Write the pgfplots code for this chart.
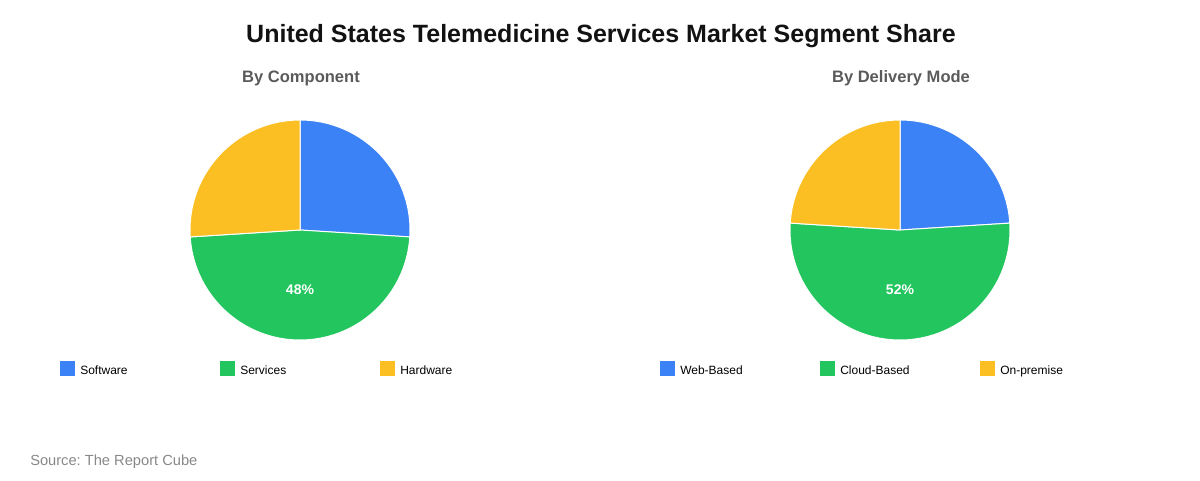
\documentclass[border=0pt]{standalone}
\usepackage{pgfplots}
\pgfplotsset{compat=1.18}
\usepackage{pgfplotstable}
\usepackage{fontspec}
\setmainfont{Liberation Sans}
\frenchspacing

\definecolor{cBlue}{HTML}{3B82F6}
\definecolor{cGreen}{HTML}{22C55E}
\definecolor{cYellow}{HTML}{FBBF24}
\definecolor{cSub}{HTML}{5A5A5A}
\definecolor{cSrc}{HTML}{888888}

% px -> pt : 1px = 0.75pt
\pgfplotstableread{
label value color
Software 26 cBlue
Services 48 cGreen
Hardware 26 cYellow
}\componentdata

\pgfplotstableread{
label value color
Web-Based 24 cBlue
Cloud-Based 52 cGreen
On-premise 24 cYellow
}\deliverydata

\tikzset{pctlabel/.style={text=white, font=\fontsize{10.5pt}{12pt}\selectfont\bfseries}}

% #1 cx, #2 cy, #3 start (%), #4 value (%), #5 colour
\newcommand\pieslice[5]{%
  \pgfmathsetmacro\aS{90-3.6*#3}%
  \pgfmathsetmacro\aE{90-3.6*(#3+#4)}%
  \edef\tmp{\noexpand\addplot[fill=#5, draw=white, line width=0.75pt,
    domain=\aE:\aS, samples=120, variable=\noexpand\t]
    ({#1+110*cos(\noexpand\t)}, {#2-110*sin(\noexpand\t)}) -- (axis cs:#1,#2) -- cycle;}\tmp
  \pgfmathtruncatemacro\isbig{#4>40}%
  \ifnum\isbig=1
    \pgfmathsetmacro\aM{(\aS+\aE)/2}%
    \pgfmathsetmacro\lx{#1+60*cos(\aM)}%
    \pgfmathsetmacro\ly{#2-60*sin(\aM)}%
    \edef\tmp{\noexpand\node[pctlabel] at (axis cs:\lx,\ly) {#4\noexpand\%};}\tmp
  \fi
}

% #1 table, #2 cx, #3 cy
\newcommand\drawpie[3]{%
  \pgfplotstablegetrowsof{#1}\pgfmathtruncatemacro\nrows{\pgfplotsretval-1}%
  \gdef\cum{0}%
  \foreach \i in {0,...,\nrows}{%
    \pgfplotstablegetelem{\i}{value}\of{#1}\let\v\pgfplotsretval
    \pgfplotstablegetelem{\i}{color}\of{#1}\let\c\pgfplotsretval
    \pieslice{#2}{#3}{\cum}{\v}{\c}%
    \pgfmathsetmacro\newcum{\cum+\v}\xdef\cum{\newcum}%
  }%
}

% #1 table, #2 x of first box
\newcommand\drawlegend[2]{%
  \foreach \i in {0,1,2}{%
    \pgfplotstablegetelem{\i}{label}\of{#1}\let\l\pgfplotsretval
    \pgfplotstablegetelem{\i}{color}\of{#1}\let\c\pgfplotsretval
    \pgfmathsetmacro\bx{#2+160*\i}%
    \edef\tmp{\noexpand\fill[\c] (axis cs:\bx,361) rectangle (axis cs:\bx+15,376);
      \noexpand\node[anchor=base west, inner sep=0pt, font=\noexpand\fontsize{9pt}{10pt}\noexpand\selectfont]
        at (axis cs:\bx+20,374) {\l};}\tmp
  }%
}

\begin{document}
\begin{tikzpicture}
\begin{axis}[
    at={(0,0)}, anchor=south west,
    width=900pt, height=360pt, scale only axis,
    xmin=0, xmax=1200, ymin=0, ymax=480,
    y dir=reverse, hide axis, clip=false,
    ]
  \path (axis cs:0,0) rectangle (axis cs:1200,480);

  \node[anchor=base, inner sep=0pt, font=\fontsize{18.75pt}{21pt}\selectfont\bfseries, text=black!93]
    at (axis cs:601,42) {United States Telemedicine Services Market Segment Share};
  \node[anchor=base, inner sep=0pt, font=\fontsize{12.4pt}{14pt}\selectfont\bfseries, text=cSub]
    at (axis cs:301,82.5) {By Component};
  \node[anchor=base, inner sep=0pt, font=\fontsize{12.4pt}{14pt}\selectfont\bfseries, text=cSub]
    at (axis cs:901,82.5) {By Delivery Mode};

  \drawpie{\componentdata}{300}{230}
  \drawpie{\deliverydata}{900}{230}

  \drawlegend{\componentdata}{60}
  \drawlegend{\deliverydata}{660}

  \node[anchor=base west, inner sep=0pt, font=\fontsize{11pt}{12pt}\selectfont, text=cSrc]
    at (axis cs:30,465) {Source: The Report Cube};
\end{axis}
\end{tikzpicture}
\end{document}
